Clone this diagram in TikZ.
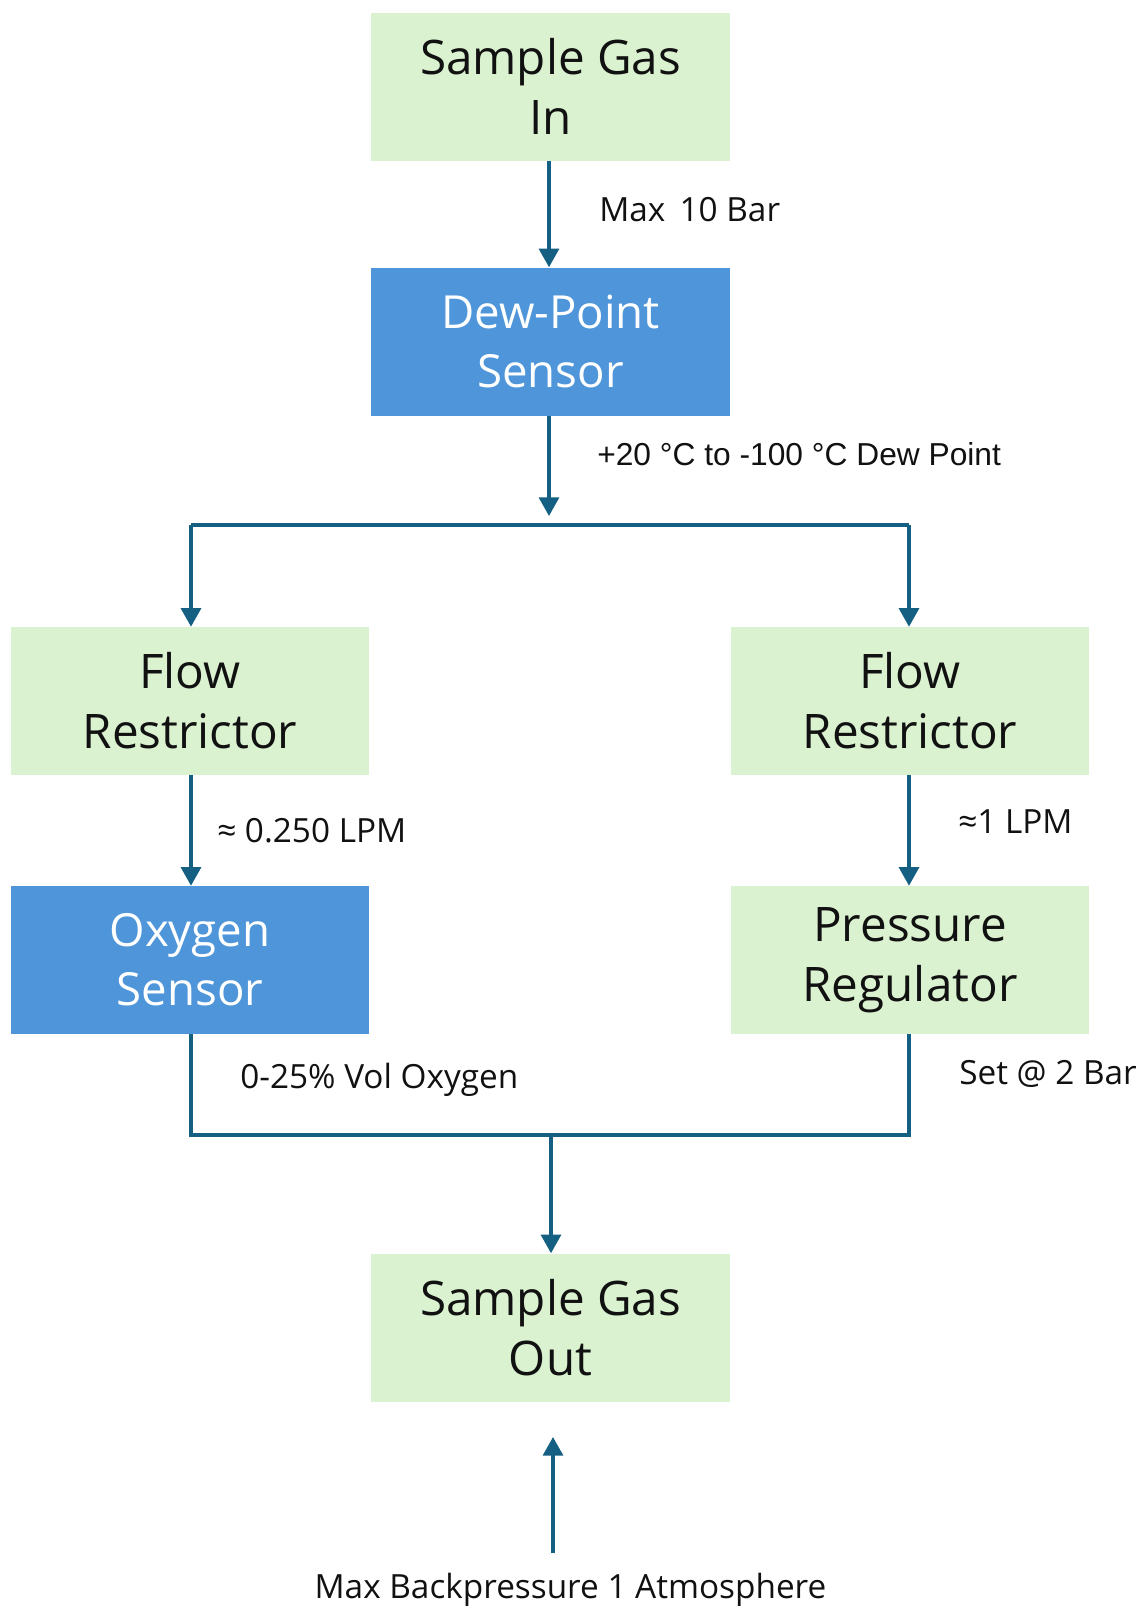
\documentclass[tikz,border=0pt]{standalone}
\usepackage{fontspec}
\setmainfont{Open Sans}
\newfontfamily\arialfont{Liberation Sans}
\usetikzlibrary{arrows.meta,positioning,calc}
\definecolor{leaf}{HTML}{DAF2D0}
\definecolor{sensorblue}{HTML}{4E95D9}
\definecolor{pipe}{HTML}{156082}
\definecolor{ink}{HTML}{111111}
\tikzset{
  stage/.style={fill=leaf,text=ink,minimum width=269pt,minimum height=111pt,
    align=center,inner sep=0pt,font=\fontsize{35.7}{45}\selectfont},
  sensor/.style={stage,fill=sensorblue,text=white,font=\fontsize{34.2}{44}\selectfont},
  flow/.style={pipe,line width=2.4pt},
  flowarrow/.style={flow,-{Triangle[width=15pt,length=14pt]}},
  note/.style={anchor=west,text=ink,inner sep=0pt,font=\fontsize{25}{29}\selectfont},
}

\begin{document}
\begin{tikzpicture}[x=0.75pt,y=-0.75pt]
\useasboundingbox (0,0) rectangle (1147,1607);
% main stages
\node[stage] (gasin) at (550.5,86.5) {Sample Gas\\In};
\node[sensor] (dew) at (550.5,341.5) {Dew-Point\\Sensor};
\node[stage] (frleft) at (190,701) {Flow\\Restrictor};
\node[stage] (frright) at (910,701) {Flow\\Restrictor};
\node[sensor] (oxy) at (190,960) {Oxygen\\Sensor};
\node[stage] (preg) at (910,960) {Pressure\\Regulator};
\node[stage] (gasout) at (550.5,1327.5) {Sample Gas\\Out};

% pipe junctions
\coordinate (splittip) at (549,516);
\coordinate (splitL) at (191,525);
\coordinate (splitR) at (909,525);
\coordinate (joinL) at (191,1135);
\coordinate (joinR) at (909,1135);
\coordinate (joinmid) at (551,1135);
\coordinate (backtail) at (553,1553);
\coordinate (backtip) at (553,1437);

% connectors
\draw[flowarrow] (gasin.south -| 549,0) -- (dew.north -| 549,0);
\draw[flowarrow] (dew.south -| 549,0) -- (splittip);
\draw[flow] (splitL) -- (splitR);
\draw[flowarrow] (splitL) -- (frleft.north -| splitL);
\draw[flowarrow] (splitR) -- (frright.north -| splitR);
\draw[flowarrow] (frleft.south -| splitL) -- (oxy.north -| splitL);
\draw[flowarrow] (frright.south -| splitR) -- (preg.north -| splitR);
\draw[flow] (oxy.south -| joinL) -- (joinL) -- (joinR) -- (preg.south -| joinR);
\draw[flowarrow] (joinmid) -- (gasout.north -| joinmid);
\draw[flowarrow] (backtail) -- (backtip);

% labels
\node[note] (maxin) at (599,210) {Max\, 10 Bar};
\node[note,font=\arialfont\fontsize{23.8}{28}\selectfont] (dewrange) at (597,454) {+20 °C to -100 °C Dew Point};
\node[note] (lpmleft) at (217,831) {≈ 0.250 LPM};
\node[note] (lpmright) at (958,822) {≈1 LPM};
\node[note] (volox) at (240,1080) {0-25\% Vol Oxygen};
\node[note] (setbar) at (959,1074) {Set @ 2 Bar};
\node[note,anchor=center] (backp) at (570.5,1590) {Max Backpressure 1 Atmosphere};
\end{tikzpicture}
\end{document}
